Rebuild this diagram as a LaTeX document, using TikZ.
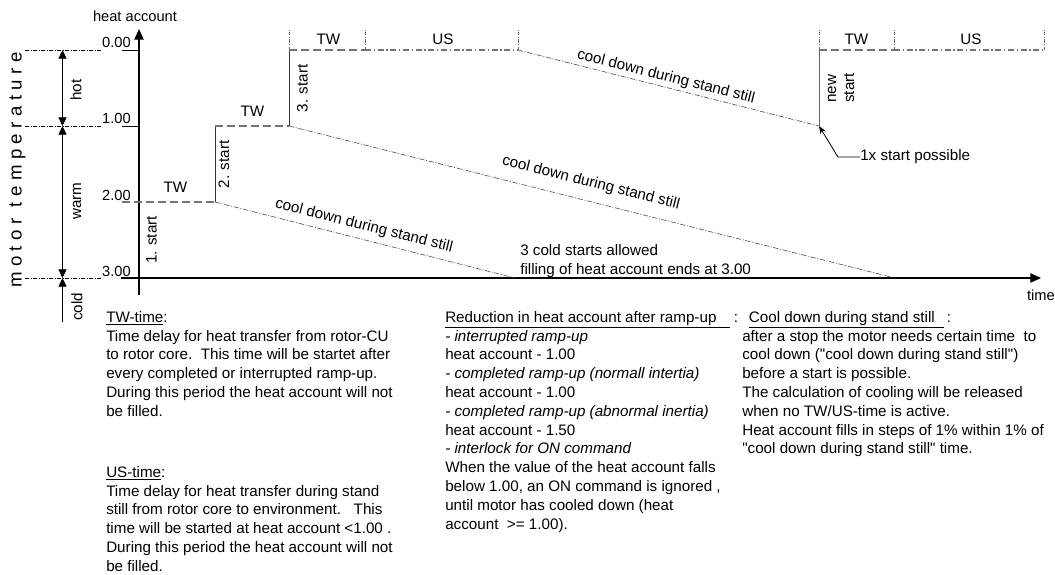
\documentclass[tikz,border=0pt]{standalone}
\usepackage{fontspec}
\setmainfont{Liberation Sans}[Ligatures=TeXOff]
\usetikzlibrary{arrows.meta}
\newcommand\lsp{\hspace{4.1pt}}
\newcommand\sq{\symbol{34}}
\begin{document}
\begin{tikzpicture}[x=0.75pt,y=-0.75pt,
  every node/.style={font=\fontsize{11.4}{14.1}\selectfont, inner sep=0pt, text=black},
  axisline/.style={line width=0.9pt, black},
  refline/.style={line width=0.45pt, black, dash pattern=on 3pt off 1.2pt on 0.6pt off 1.2pt},
  tickline/.style={line width=0.45pt, black!60, dash pattern=on 2.5pt off 1.2pt on 0.6pt off 1.2pt},
  twline/.style={line width=0.9pt, black!55, dash pattern=on 6pt off 3pt},
  usline/.style={line width=0.9pt, black!55, dash pattern=on 4.5pt off 2pt on 1pt off 2pt},
  coolline/.style={line width=0.5pt, black!65, dash pattern=on 4pt off 1.2pt on 0.8pt off 1.2pt},
  startline/.style={line width=0.7pt, black!80},
  rangeline/.style={line width=0.6pt, black},
  rangetip/.tip={Triangle[length=6.5pt,width=6pt]},
  axtip/.tip={Triangle[length=8pt,width=7pt]},
  rot/.style={rotate=90},
  coollabel/.style={rotate=-14.2},
  block/.style={anchor=north west, align=left}
]
\useasboundingbox (0,0) rectangle (1055,574);

% ---------- key points of the heat account curve ----------
\coordinate (L0) at (139,50);
\coordinate (L1) at (139,126);
\coordinate (L2) at (139,202);
\coordinate (L3) at (139,278);
\coordinate (s2b) at (215,202);
\coordinate (s2t) at (215,126);
\coordinate (s3b) at (289,126);
\coordinate (s3t) at (289,50);
\coordinate (tw1e) at (365,50);
\coordinate (us1e) at (518,50);
\coordinate (nsb) at (819,126);
\coordinate (nst) at (819,50);
\coordinate (tw2e) at (894,50);
\coordinate (us2e) at (1044,50);
\coordinate (coolAend) at (515,278);
\coordinate (coolBend) at (895,278);

% ---------- scale values and range limits on the left ----------
\foreach \y/\t/\n in {50/0.00/0,126/1.00/1,202/2.00/2,278/3.00/3}{
  \node[anchor=base east, font=\fontsize{11}{13}\selectfont] (lvl\n) at (131,\y-2) {\t};
}
\foreach \y/\n in {50/0,126/1,278/3}{
  \coordinate (ref\n a) at (25,\y);
  \coordinate (ref\n b) at (102,\y);
  \draw[refline] (ref\n a) -- (ref\n b);
}
\coordinate (tk0) at (122,50);
\coordinate (tk1) at (122,126);
\coordinate (tk2) at (122,202);
\coordinate (tk3) at (121,278);
\draw[axisline, line width=0.7pt] (tk0) -- (L0);
\draw[axisline, line width=0.7pt] (tk1) -- (L1);

% ---------- temperature ranges ----------
\coordinate (rh) at (62.5,50);
\coordinate (rw) at (62.5,126);
\coordinate (rc) at (62.5,278);
\coordinate (rend) at (62.5,322);
\draw[rangeline, rangetip-rangetip] (rh) -- (rw);
\draw[rangeline, rangetip-rangetip] (rw) -- (rc);
\draw[rangeline, rangetip-] (rc) -- (rend);
\node[rot] (hot) at (76,90) {hot};
\node[rot] (warm) at (77,201) {warm};
\node[rot] (cold) at (77,307) {cold};
\node[rot, font=\fontsize{14}{16}\selectfont] (mt) at (17.5,170)
  {m\lsp o\lsp t\lsp o\lsp r\lsp\lsp t\lsp e\lsp m\lsp p\lsp e\lsp r\lsp a\lsp t\lsp u\lsp r\lsp e};

% ---------- axes ----------
\coordinate (ybot) at (139,295);
\coordinate (ytop) at (139,29);
\coordinate (xend) at (1041,278);
\draw[axisline, -axtip] (ybot) -- (ytop);
\draw[axisline, -axtip] (tk3) -- (xend);
\node[font=\fontsize{11}{13}\selectfont] (ha) at (135,16.5) {heat account};
\node[font=\fontsize{11}{13}\selectfont] (time) at (1041,295) {time};

% ---------- starts and TW / US times ----------
\draw[twline] (tk2) -- (s2b);
\draw[startline] (s2b) -- (s2t);
\draw[twline] (s2t) -- (s3b);
\draw[startline] (s3b) -- (s3t);
\draw[twline] (s3t) -- (tw1e);
\draw[usline] (tw1e) -- (us1e);
\draw[startline, black!60] (nsb) -- (nst);
\draw[twline] (nst) -- (tw2e);
\draw[usline] (tw2e) -- (us2e);
\foreach \c in {s3t,tw1e,us1e,nst,tw2e,us2e}{
  \draw[tickline] (\c) -- ++(0,-20);
}

\node[rot] (st1) at (151.5,240) {1. start};
\node[rot] (st2) at (224,164.5) {2. start};
\node[rot] (st3) at (302.5,88.5) {3. start};
\node[rot, align=left, font=\fontsize{11.4}{13.5}\selectfont] (nstart) at (841,88) {new\\start};

\node (tw1) at (175.5,187) {TW};
\node (tw2) at (252.5,111) {TW};
\node (tw3) at (328.5,39) {TW};
\node (us3) at (443,39) {US};
\node (tw4) at (856.5,39) {TW};
\node (us4) at (971,39) {US};

% ---------- cool down during stand still ----------
\draw[coolline] (s2b) -- (coolAend);
\draw[coolline] (s3b) -- (coolBend);
\draw[coolline] (us1e) -- (nsb);
\node[coollabel] (cdA) at (364,226) {cool down during stand still};
\node[coollabel] (cdB) at (591,183) {cool down during stand still};
\node[coollabel] (cdC) at (666,77) {cool down during stand still};

\node[anchor=west] (poss) at (860,157) {1x start possible};
\coordinate (bend) at (838,157);
\draw[line width=0.6pt, -{Stealth[length=6pt,width=4.5pt]}] (poss.west) -- (bend) -- (nsb);

\node[block] (cold3) at (520,244) {3 cold starts allowed\\filling of heat account ends at 3.00};

% ---------- explanations ----------
\node[block] (twtxt) at (106,311) {\underline{TW-time}:\\
Time delay for heat transfer from rotor-CU\\
to rotor core.\ \ This time will be startet after\\
every completed or interrupted ramp-up.\\
During this period the heat account will not\\
be filled.};

\node[block] (ustxt) at (106,466) {\underline{US-time}:\\
Time delay for heat transfer during stand\\
still from rotor core to environment.\ \ \ This\\
time will be started at heat account <1.00 .\\
During this period the heat account will not\\
be filled.};

\node[block] (redtxt) at (445,311) {\underline{Reduction in heat account after ramp-up\hspace*{10pt}}\hspace{3pt}:\\
\textit{- interrupted ramp-up}\\
heat account - 1.00\\
\textit{- completed ramp-up (normall intertia)}\\
heat account - 1.00\\
\textit{- completed ramp-up (abnormal inertia)}\\
heat account - 1.50\\
\textit{- interlock for ON command}\\
When the value of the heat account falls\\
below 1.00, an ON command is ignored ,\\
until motor has cooled down (heat\\
account\ \ >= 1.00).};

\node[block] (cdtxt) at (742,311) {\hspace*{5pt}\underline{Cool down during stand still\hspace*{7pt}}\hspace{2pt}:\\
after a stop the motor needs certain time\ \ to\\
cool down (\sq cool down during stand still\sq)\\
before a start is possible.\\
The calculation of cooling will be released\\
when no TW/US-time is active.\\
Heat account fills in steps of 1\% within 1\% of\\
\sq cool down during stand still\sq\ time.};
\end{tikzpicture}
\end{document}
